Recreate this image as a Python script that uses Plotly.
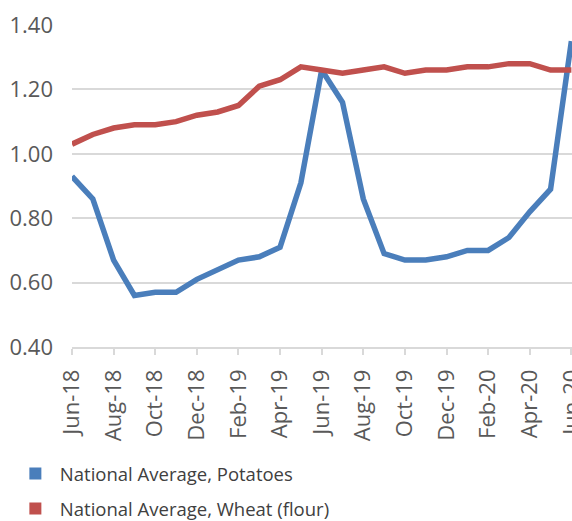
import plotly.graph_objects as go

months = ["Jun-18", "Jul-18", "Aug-18", "Sep-18", "Oct-18", "Nov-18", "Dec-18",
          "Jan-19", "Feb-19", "Mar-19", "Apr-19", "May-19", "Jun-19", "Jul-19",
          "Aug-19", "Sep-19", "Oct-19", "Nov-19", "Dec-19", "Jan-20", "Feb-20",
          "Mar-20", "Apr-20", "May-20", "Jun-20"]
potatoes = [0.93, 0.86, 0.67, 0.56, 0.57, 0.57, 0.61, 0.64, 0.67, 0.68, 0.71, 0.91,
            1.26, 1.16, 0.86, 0.69, 0.67, 0.67, 0.68, 0.70, 0.70, 0.74, 0.82, 0.89, 1.35]
wheat = [1.03, 1.06, 1.08, 1.09, 1.09, 1.10, 1.12, 1.13, 1.15, 1.21, 1.23, 1.27,
         1.26, 1.25, 1.26, 1.27, 1.25, 1.26, 1.26, 1.27, 1.27, 1.28, 1.28, 1.26, 1.26]
tick_labels = months[::2]
y_ticks = [0.40, 0.60, 0.80, 1.00, 1.20, 1.40]
names = ["National Average, Potatoes", "National Average, Wheat (flour)"]

blue = "#4A7EBB"
red = "#C0504D"

fig = go.Figure()
fig.add_trace(go.Scatter(x=months, y=potatoes, mode="lines", line=dict(color=blue, width=5.5),
                         showlegend=False))
fig.add_trace(go.Scatter(x=months, y=wheat, mode="lines", line=dict(color=red, width=5.5),
                         showlegend=False))
# legend entries with square swatches
fig.add_trace(go.Scatter(x=[None], y=[None], mode="markers", name=names[0], legendgroup="a",
                         marker=dict(symbol="square", size=15, color=blue)))
fig.add_trace(go.Scatter(x=[None], y=[None], mode="markers", name=names[1], legendgroup="b",
                         marker=dict(symbol="square", size=15, color=red)))

fig.update_layout(
    width=572, height=521,
    margin=dict(l=72, r=0, t=25, b=174, autoexpand=False),
    paper_bgcolor="white", plot_bgcolor="white",
    font=dict(family="Open Sans, Noto Sans, sans-serif", color="#595959"),
    legend=dict(xref="container", yref="container", x=0.019, xanchor="left",
                y=0.1267, yanchor="top",
                font=dict(size=18.5, color="#404040"), tracegroupgap=8,
                traceorder="grouped", itemsizing="constant", itemwidth=39),
)
fig.update_xaxes(
    type="category", range=[0, 24.03], automargin=False,
    tickmode="array", tickvals=tick_labels, ticktext=tick_labels,
    tickangle=-90, tickfont=dict(size=22, color="#595959"),
    ticks="outside", ticklen=6, tickcolor="#D9D9D9", tickwidth=1.5,
    showline=True, linecolor="#D9D9D9", linewidth=1.5,
    showgrid=False, zeroline=False, ticklabelstandoff=6,
)
fig.update_yaxes(
    range=[0.40, 1.40], automargin=False, tickmode="array", tickvals=y_ticks,
    ticktext=[f"{v:.2f}" for v in y_ticks],
    tickfont=dict(size=22, color="#595959"),
    showgrid=True, gridcolor="#D9D9D9", gridwidth=1.5,
    zeroline=False, showline=False, ticks="", ticklabelstandoff=18,
)

fig.write_html("out.html", config={"displayModeBar": False},
               post_script="document.body.style.margin='0';")
